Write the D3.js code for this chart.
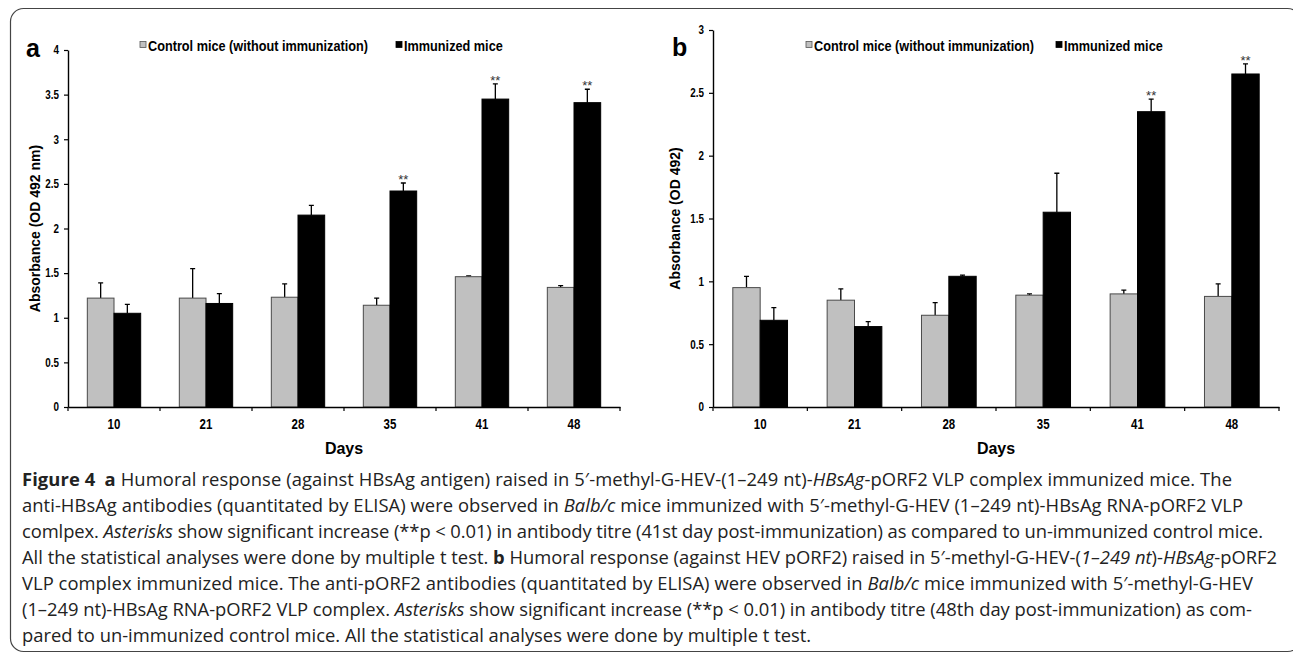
<!DOCTYPE html>
<html><head><meta charset="utf-8">
<script src="https://cdn.jsdelivr.net/npm/d3@7"></script>
<style>body{margin:0;background:#fff}svg{display:block}</style>
</head><body>
<svg id="fig" width="1293" height="657"></svg>
<script>
// ---------- data ----------
const days = ["10", "21", "28", "35", "41", "48"];
const seriesNames = ["Control mice (without immunization)", "Immunized mice"];

const aControl = [1.22, 1.22, 1.23, 1.14, 1.46, 1.34];
const aControlErr = [0.17, 0.33, 0.15, 0.08, 0.01, 0.02];
const aImmunized = [1.05, 1.16, 2.15, 2.42, 3.45, 3.41];
const aImmunizedErr = [0.10, 0.11, 0.11, 0.09, 0.17, 0.15];
const aSignificant = ["35", "41", "48"];
const aTicks = [0, 0.5, 1, 1.5, 2, 2.5, 3, 3.5, 4];

const bControl = [0.95, 0.85, 0.73, 0.89, 0.90, 0.88];
const bControlErr = [0.09, 0.09, 0.10, 0.01, 0.03, 0.10];
const bImmunized = [0.69, 0.64, 1.04, 1.55, 2.35, 2.65];
const bImmunizedErr = [0.10, 0.04, 0.01, 0.31, 0.10, 0.08];
const bSignificant = ["41", "48"];
const bTicks = [0, 0.5, 1, 1.5, 2, 2.5, 3];

const captionLines = [
  [["Figure 4", "b"], ["\u2002", ""], ["a", "b"], [" Humoral response (against HBsAg antigen) raised in 5\u2032-methyl-G-HEV-(1\u2013249 nt)-", ""], ["HBsAg", "i"], ["-pORF2 VLP complex immunized mice. The", ""]],
  [["anti-HBsAg antibodies (quantitated by ELISA) were observed in ", ""], ["Balb/c", "i"], [" mice immunized with 5\u2032-methyl-G-HEV (1\u2013249 nt)-HBsAg RNA-pORF2 VLP", ""]],
  [["comlpex. ", ""], ["Asterisks", "i"], [" show significant increase (**p < 0.01) in antibody titre (41st day post-immunization) as compared to un-immunized control mice.", ""]],
  [["All the statistical analyses were done by multiple t test. ", ""], ["b", "b"], [" Humoral response (against HEV pORF2) raised in 5\u2032-methyl-G-HEV-(", ""], ["1\u2013249 nt", "i"], [")-", ""], ["HBsAg", "i"], ["-pORF2", ""]],
  [["VLP complex immunized mice. The anti-pORF2 antibodies (quantitated by ELISA) were observed in ", ""], ["Balb/c", "i"], [" mice immunized with 5\u2032-methyl-G-HEV", ""]],
  [["(1\u2013249 nt)-HBsAg RNA-pORF2 VLP complex. ", ""], ["Asterisks", "i"], [" show significant increase (**p < 0.01) in antibody titre (48th day post-immunization) as com-", ""]],
  [["pared to un-immunized control mice. All the statistical analyses were done by multiple t test.", ""]]
];
const captionLineEnds = [1232, 1243, 1263, 1277, 1253, 1252, null];

// ---------- drawing ----------
const svg = d3.select("#fig");
const SANS = "'Liberation Sans',Arial,sans-serif";

// condensed look (Arial Narrow style) by compressing glyphs horizontally
function narrow(sel, k) {
  sel.each(function () {
    const w = this.getComputedTextLength();
    d3.select(this).attr("textLength", w * k).attr("lengthAdjust", "spacingAndGlyphs");
  });
}

// frame
svg.append("rect").attr("x", 10.5).attr("y", 8.5).attr("width", 1290).attr("height", 643)
  .attr("rx", 13).attr("fill", "none").attr("stroke", "#444").attr("stroke-width", 1.2);

function panel(cfg) {
  const g = svg.append("g");
  const x0 = d3.scaleBand().domain(days).range([cfg.left, cfg.right]).padding(0);
  const x1 = d3.scaleBand().domain(seriesNames)
    .range([x0.bandwidth() * 0.21, x0.bandwidth() * 0.79]).padding(0);
  const y = d3.scaleLinear().domain([0, cfg.ymax]).range([407, cfg.top]);

  const rows = days.map((d, i) => ({
    day: d,
    vals: [
      { s: seriesNames[0], v: cfg.control[i], e: cfg.controlErr[i] },
      { s: seriesNames[1], v: cfg.immunized[i], e: cfg.immunizedErr[i] }
    ]
  }));

  const grp = g.selectAll("g.day").data(rows).join("g")
    .attr("transform", r => `translate(${x0(r.day)},0)`);

  // error bars (upwards only)
  grp.selectAll("path.err").data(r => r.vals).join("path")
    .attr("d", d => {
      const cx = x1(d.s) + x1.bandwidth() / 2;
      return `M${cx},${y(d.v)}V${y(d.v + d.e)}M${cx - 2.5},${y(d.v + d.e)}H${cx + 2.5}`;
    })
    .attr("stroke", "#000").attr("stroke-width", 1.3).attr("fill", "none");

  grp.selectAll("rect").data(r => r.vals).join("rect")
    .attr("x", d => x1(d.s))
    .attr("y", d => y(d.v))
    .attr("width", x1.bandwidth())
    .attr("height", d => 407 - y(d.v))
    .attr("fill", d => d.s === seriesNames[0] ? "#c0c0c0" : "#000")
    .attr("stroke", d => d.s === seriesNames[0] ? "#4a4a4a" : "#000")
    .attr("stroke-width", 1);

  // asterisks
  g.selectAll("text.sig").data(rows.filter(r => cfg.sig.includes(r.day))).join("text")
    .attr("x", r => x0(r.day) + x1(seriesNames[1]) + x1.bandwidth() / 2)
    .attr("y", r => y(r.vals[1].v + r.vals[1].e) + 1)
    .attr("text-anchor", "middle").attr("font-family", SANS).attr("font-size", 13)
    .attr("fill", "#333").text("**");

  // y axis
  const ya = g.append("g").attr("transform", `translate(${cfg.left},0)`)
    .call(d3.axisLeft(y).tickValues(cfg.ticks).tickFormat(d => String(d)).tickSize(4).tickSizeOuter(0).tickPadding(5));
  ya.select(".domain").attr("stroke", "#000").attr("stroke-width", 1.4);
  ya.selectAll(".tick line").attr("stroke", "#000").attr("stroke-width", 1.2);
  ya.selectAll("text").attr("font-family", SANS).attr("font-weight", "bold").attr("font-size", 12).attr("fill", "#000")
    .call(narrow, 0.82);

  // x axis: labels at band centers, tick marks at band boundaries
  const xa = g.append("g").attr("transform", "translate(0,407)")
    .call(d3.axisBottom(x0).tickSize(0).tickPadding(12));
  xa.select(".domain").attr("stroke", "#000").attr("stroke-width", 1.4);
  xa.selectAll("text").attr("font-family", SANS).attr("font-weight", "bold").attr("font-size", 14).attr("fill", "#000")
    .call(narrow, 0.82);
  const bounds = days.map(d => x0(d)).concat([x0(days[days.length - 1]) + x0.bandwidth()]);
  xa.selectAll("line.bt").data(bounds).join("line").attr("class", "bt")
    .attr("x1", d => d).attr("x2", d => d).attr("y1", 0).attr("y2", 4)
    .attr("stroke", "#000").attr("stroke-width", 1.2);

  // axis titles
  g.append("text").attr("transform", `translate(${cfg.ytitleX},${(407 + cfg.top) / 2}) rotate(-90)`)
    .attr("text-anchor", "middle").attr("dy", "0.35em").attr("font-family", SANS).attr("font-weight", "bold")
    .attr("font-size", 14).text(cfg.ytitle);
  g.append("text").attr("x", (cfg.left + cfg.right) / 2).attr("y", 454)
    .attr("text-anchor", "middle").attr("font-family", SANS).attr("font-weight", "bold")
    .attr("font-size", 16).text("Days");

  // panel letter
  g.append("text").attr("x", cfg.letterX).attr("y", cfg.letterY).attr("font-family", SANS)
    .attr("font-weight", "bold").attr("font-size", 25).text(cfg.letter);

  // legend (condensed via horizontal scale transform)
  const lg = g.selectAll("g.leg").data(seriesNames).join("g")
    .attr("transform", (d, i) => `translate(${cfg.legendX[i]},0)`);
  lg.append("rect").attr("x", 0).attr("y", 41.5).attr("width", 6).attr("height", 6)
    .attr("fill", (d, i) => i === 0 ? "#c0c0c0" : "#000").attr("stroke", (d, i) => i === 0 ? "#555" : "#000").attr("stroke-width", 0.8);
  lg.append("text").attr("transform", "translate(8,51) scale(0.82,1)")
    .attr("font-family", SANS).attr("font-weight", "bold")
    .attr("font-size", 15.5).text(d => d);
}

panel({
  left: 68, right: 620, top: 50, ymax: 4, ticks: aTicks,
  control: aControl, controlErr: aControlErr, immunized: aImmunized, immunizedErr: aImmunizedErr,
  sig: aSignificant, ytitle: "Absorbance (OD 492 nm)", ytitleX: 35,
  letter: "a", letterX: 26, letterY: 57, legendX: [140, 396]
});
panel({
  left: 713, right: 1279, top: 30, ymax: 3, ticks: bTicks,
  control: bControl, controlErr: bControlErr, immunized: bImmunized, immunizedErr: bImmunizedErr,
  sig: bSignificant, ytitle: "Absorbance (OD 492)", ytitleX: 675,
  letter: "b", letterX: 672, letterY: 56, legendX: [806, 1056]
});

// caption
const CAP = "'Open Sans','Noto Sans',sans-serif";
const cap = svg.append("g");
const capX = 22, capY0 = 486, capDy = 26;
let fs = 17;
const lines = cap.selectAll("text").data(captionLines).join("text")
  .attr("x", capX).attr("y", (d, i) => capY0 + i * capDy)
  .attr("font-family", CAP).attr("font-size", fs).attr("fill", "#222");
lines.selectAll("tspan").data(d => d).join("tspan")
  .attr("font-weight", d => d[1] === "b" ? "bold" : null)
  .attr("font-style", d => d[1] === "i" ? "italic" : null)
  .text(d => d[0]);
const ratios = [];
lines.each(function (d, i) {
  if (captionLineEnds[i]) ratios.push((captionLineEnds[i] - capX) / this.getComputedTextLength());
});
fs = fs * d3.mean(ratios);
lines.attr("font-size", fs);
lines.each(function (d, i) {
  if (captionLineEnds[i]) d3.select(this).attr("textLength", captionLineEnds[i] - capX).attr("lengthAdjust", "spacing");
});
</script>
</body></html>
